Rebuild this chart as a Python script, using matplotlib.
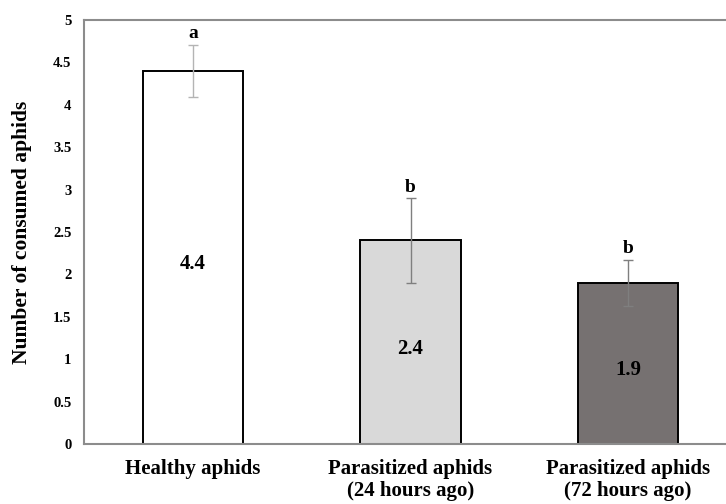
import matplotlib.pyplot as plt
import numpy as np

categories = ['Healthy aphids', 'Parasitized aphids\n(24 hours ago)', 'Parasitized aphids\n(72 hours ago)']
means = [4.4, 2.4, 1.9]
errors = [0.31, 0.5, 0.27]
letters = ['a', 'b', 'b']
bar_colors = ['#ffffff', '#d9d9d9', '#767171']
err_colors = ['#b4b4b4', '#7f7f7f', '#7f7f7f']
yticks = [0, 0.5, 1, 1.5, 2, 2.5, 3, 3.5, 4, 4.5, 5]

plt.rcParams['font.family'] = ['Liberation Serif', 'DejaVu Serif']
plt.rcParams['font.weight'] = 'bold'

fig = plt.figure(figsize=(7.26, 5.04), dpi=100)
ax = fig.add_axes([84/726, 1 - 444/504, (737 - 84)/726, 424/504])

x = np.arange(len(categories))
ax.bar(x, means, width=0.46, color=bar_colors, edgecolor='black', linewidth=1.4, zorder=2)
for i in range(len(x)):
    ax.errorbar(x[i], means[i], yerr=errors[i], fmt='none', ecolor=err_colors[i],
                elinewidth=1.0, capsize=3.3, capthick=1.0, zorder=3)
    ax.text(x[i], means[i] + errors[i] + 0.03, letters[i], ha='center', va='bottom',
            fontsize=14, fontweight='bold')
    ax.text(x[i], means[i] / 2 - 0.08, '%.1f' % means[i], ha='center', va='center',
            fontsize=15, fontweight='bold')

ax.set_xlim(-0.5, 2.5)
ax.set_ylim(0, 5)
ax.set_yticks(yticks)
ax.set_yticklabels(['%g' % t for t in yticks], fontsize=10.5, fontweight='bold')
ax.set_xticks(x)
ax.set_xticklabels(categories, fontsize=15, fontweight='bold', linespacing=1.1)
ax.tick_params(axis='both', length=0)
ax.tick_params(axis='y', pad=9)
ax.tick_params(axis='x', pad=11)
for s in ['left', 'bottom', 'top', 'right']:
    ax.spines[s].set_color('#8c8c8c')
    ax.spines[s].set_linewidth(1.5)
ax.set_ylabel('Number of consumed aphids', fontsize=15.5, fontweight='bold', labelpad=15)

fig.savefig('out.png', dpi=100)
